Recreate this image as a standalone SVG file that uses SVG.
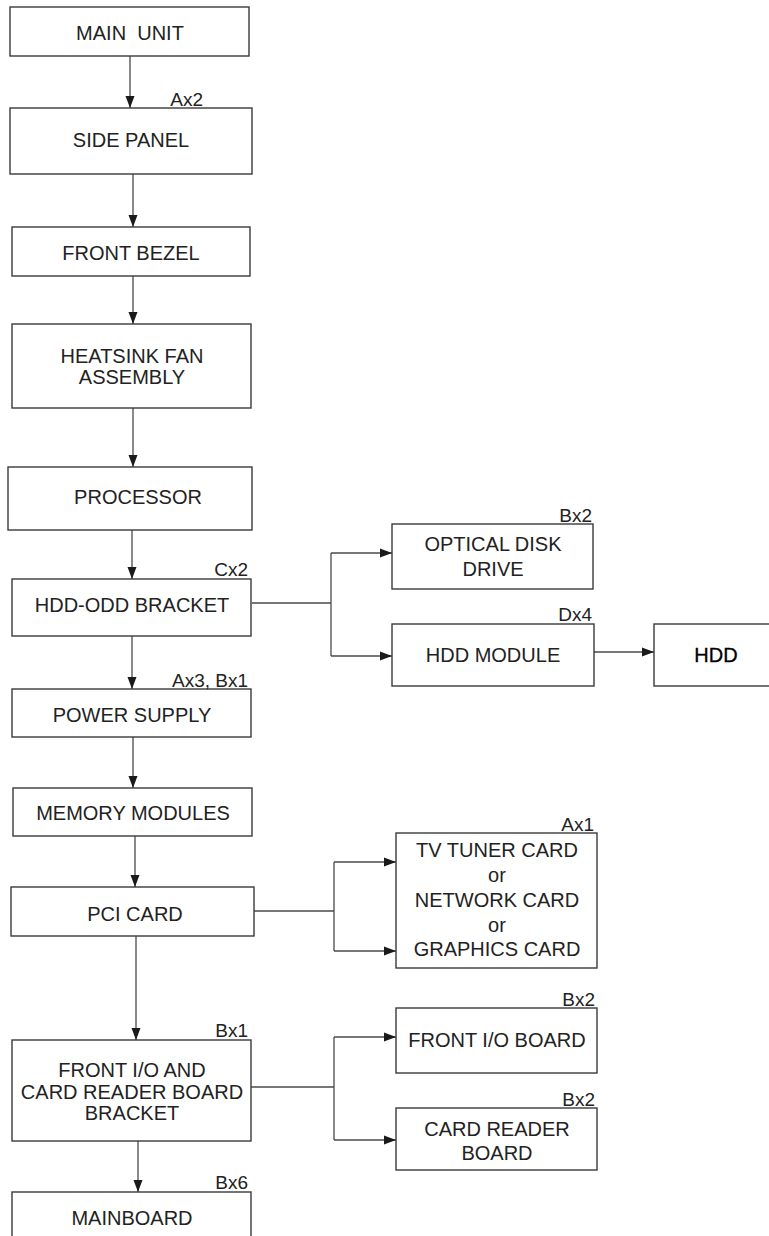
<svg xmlns="http://www.w3.org/2000/svg" width="769" height="1236" viewBox="0 0 769 1236">
<defs>
<marker id="arr" markerUnits="userSpaceOnUse" markerWidth="12" markerHeight="10" refX="12" refY="5" orient="auto">
<path d="M0,0.5 L12,5 L0,9.5 z" fill="#1a1a1a"/>
</marker>
<style>
.box{fill:#fff;stroke:#3a3a3a;stroke-width:1.4}
.t{font-family:"Liberation Sans",Arial,sans-serif;font-size:20px;fill:#222;text-anchor:middle}
.q{font-family:"Liberation Sans",Arial,sans-serif;font-size:19px;fill:#222;text-anchor:end}
.c{fill:none;stroke:#4a4a4a;stroke-width:1.3}
</style>
</defs>
<rect width="769" height="1236" fill="#fff"/>
<g id="connectors">
<line class="c" x1="130" y1="56" x2="130" y2="108" marker-end="url(#arr)"/>
<line class="c" x1="133" y1="174" x2="133" y2="227" marker-end="url(#arr)"/>
<line class="c" x1="133" y1="276" x2="133" y2="324" marker-end="url(#arr)"/>
<line class="c" x1="133" y1="408" x2="133" y2="467" marker-end="url(#arr)"/>
<line class="c" x1="132" y1="530" x2="132" y2="579" marker-end="url(#arr)"/>
<line class="c" x1="252" y1="603" x2="331" y2="603"/>
<line class="c" x1="331" y1="553" x2="331" y2="656"/>
<line class="c" x1="331" y1="553" x2="392" y2="553" marker-end="url(#arr)"/>
<line class="c" x1="331" y1="656" x2="392" y2="656" marker-end="url(#arr)"/>
<line class="c" x1="594" y1="652" x2="654" y2="652" marker-end="url(#arr)"/>
<line class="c" x1="132" y1="636" x2="132" y2="689" marker-end="url(#arr)"/>
<line class="c" x1="133" y1="737" x2="133" y2="788" marker-end="url(#arr)"/>
<line class="c" x1="135" y1="836" x2="135" y2="887" marker-end="url(#arr)"/>
<line class="c" x1="254" y1="911" x2="334" y2="911"/>
<line class="c" x1="334" y1="862" x2="334" y2="951"/>
<line class="c" x1="334" y1="862" x2="396" y2="862" marker-end="url(#arr)"/>
<line class="c" x1="334" y1="951" x2="396" y2="951" marker-end="url(#arr)"/>
<line class="c" x1="136" y1="936" x2="136" y2="1040" marker-end="url(#arr)"/>
<line class="c" x1="251" y1="1087" x2="334" y2="1087"/>
<line class="c" x1="334" y1="1037" x2="334" y2="1140"/>
<line class="c" x1="334" y1="1037" x2="396" y2="1037" marker-end="url(#arr)"/>
<line class="c" x1="334" y1="1140" x2="396" y2="1140" marker-end="url(#arr)"/>
<line class="c" x1="138" y1="1141" x2="138" y2="1192" marker-end="url(#arr)"/>
</g>
<g id="main-unit"><rect class="box" x="10" y="7" width="239" height="49"/><text class="t" x="130" y="40" xml:space="preserve">MAIN  UNIT</text></g>
<g id="side-panel"><rect class="box" x="10" y="108" width="242" height="66"/><text class="t" x="131" y="147">SIDE PANEL</text><text class="q" x="203" y="106">Ax2</text></g>
<g id="front-bezel"><rect class="box" x="12" y="227" width="238" height="49"/><text class="t" x="131" y="260">FRONT BEZEL</text></g>
<g id="heatsink"><rect class="box" x="12" y="324" width="239" height="84"/><text class="t" x="132" y="363">HEATSINK FAN</text><text class="t" x="132" y="384">ASSEMBLY</text></g>
<g id="processor"><rect class="box" x="8" y="467" width="244" height="63"/><text class="t" x="138" y="504">PROCESSOR</text></g>
<g id="hdd-odd-bracket"><rect class="box" x="12" y="579" width="239" height="57"/><text class="t" x="132" y="612">HDD-ODD BRACKET</text><text class="q" x="248" y="576">Cx2</text></g>
<g id="optical"><rect class="box" x="392" y="524" width="201" height="65"/><text class="t" x="493" y="551">OPTICAL DISK</text><text class="t" x="493" y="576">DRIVE</text><text class="q" x="592" y="522">Bx2</text></g>
<g id="hdd-module"><rect class="box" x="392" y="624" width="202" height="62"/><text class="t" x="493" y="662">HDD MODULE</text><text class="q" x="592" y="621">Dx4</text></g>
<g id="hdd"><rect class="box" x="654" y="624" width="130" height="62"/><text class="t" x="716" y="662" style="fill:#000;stroke:#000;stroke-width:0.3">HDD</text></g>
<g id="power-supply"><rect class="box" x="12" y="689" width="239" height="48"/><text class="t" x="132" y="722">POWER SUPPLY</text><text class="q" x="248" y="687">Ax3, Bx1</text></g>
<g id="memory"><rect class="box" x="13" y="788" width="239" height="48"/><text class="t" x="133" y="820">MEMORY MODULES</text></g>
<g id="pci-card"><rect class="box" x="11" y="887" width="243" height="49"/><text class="t" x="135" y="921">PCI CARD</text></g>
<g id="tv-card"><rect class="box" x="396" y="833" width="201" height="135"/><text class="t" x="497" y="857">TV TUNER CARD</text><text class="t" x="497" y="882">or</text><text class="t" x="497" y="907">NETWORK CARD</text><text class="t" x="497" y="932">or</text><text class="t" x="497" y="956">GRAPHICS CARD</text><text class="q" x="594" y="831">Ax1</text></g>
<g id="front-io-bracket"><rect class="box" x="12" y="1040" width="239" height="101"/><text class="t" x="132" y="1077">FRONT I/O AND</text><text class="t" x="132" y="1099">CARD READER BOARD</text><text class="t" x="132" y="1120">BRACKET</text><text class="q" x="248" y="1037">Bx1</text></g>
<g id="front-io-board"><rect class="box" x="396" y="1008" width="201" height="65"/><text class="t" x="497" y="1047">FRONT I/O BOARD</text><text class="q" x="595" y="1006">Bx2</text></g>
<g id="card-reader"><rect class="box" x="396" y="1108" width="201" height="62"/><text class="t" x="497" y="1136">CARD READER</text><text class="t" x="497" y="1160">BOARD</text><text class="q" x="595" y="1106">Bx2</text></g>
<g id="mainboard"><rect class="box" x="12" y="1192" width="239" height="60"/><text class="t" x="132" y="1225">MAINBOARD</text><text class="q" x="248" y="1189">Bx6</text></g>
</svg>
